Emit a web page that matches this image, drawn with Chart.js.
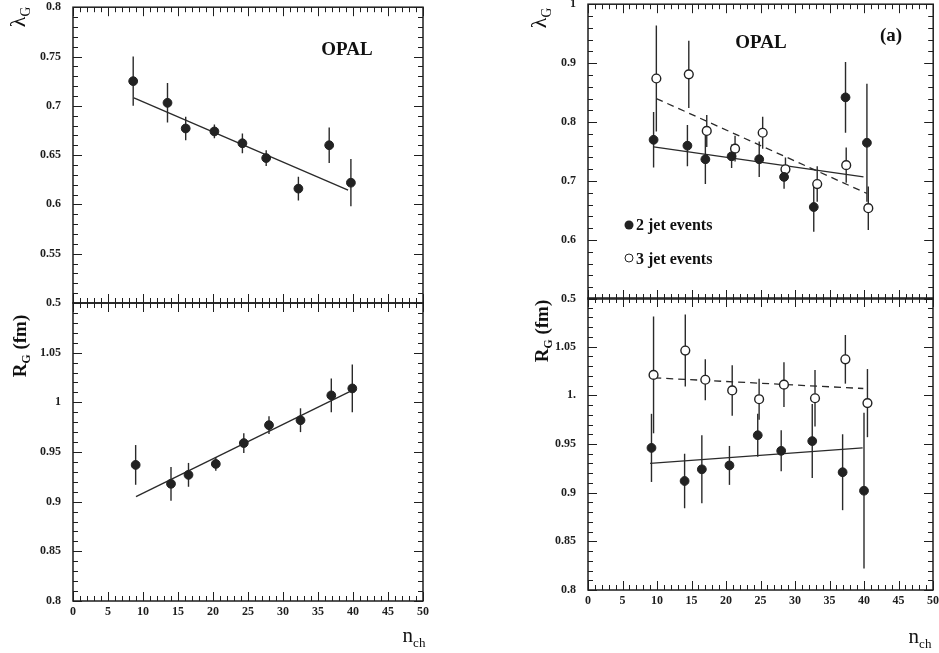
<!DOCTYPE html>
<html lang="en">
<head>
<meta charset="UTF-8">
<title>OPAL lambda_G and R_G versus n_ch</title>
<style>
  body { margin: 0; background: #fff; font-family: "Liberation Serif", serif; }
  #page { position: relative; width: 939px; height: 653px; overflow: hidden; background: #fff; }
  canvas { position: absolute; }
  .lbl { position: absolute; color: #111; white-space: nowrap; font-weight: bold; transform: translate(-50%, -50%); line-height: 1; }
  .left { transform: translate(0, -50%); }
  .rot { transform: translate(-50%, -50%) rotate(-90deg); }
  .lbl sub { font-size: 62%; vertical-align: -0.35em; }
  .dot { position: absolute; width: 9px; height: 9px; border-radius: 50%; transform: translate(-50%, -50%); box-sizing: border-box; }
</style>
</head>
<body>
<div id="page">
  <canvas id="tl" width="440" height="316" style="left:0;top:0"></canvas>
  <canvas id="bl" width="440" height="363" style="left:0;top:290px"></canvas>
  <canvas id="tr" width="439" height="313" style="left:500px;top:-3px"></canvas>
  <canvas id="br" width="439" height="365" style="left:500px;top:288px"></canvas>

  <div class="lbl rot" style="left:20px;top:17px;font-size:22px;font-weight:normal">&lambda;<sub>G</sub></div>
  <div class="lbl rot" style="left:21px;top:346px;font-size:19px">R<sub>G</sub> (fm)</div>
  <div class="lbl rot" style="left:541px;top:18px;font-size:22px;font-weight:normal">&lambda;<sub>G</sub></div>
  <div class="lbl rot" style="left:543px;top:331px;font-size:19px">R<sub>G</sub> (fm)</div>

  <div class="lbl" style="left:347px;top:48px;font-size:19px">OPAL</div>
  <div class="lbl" style="left:761px;top:41px;font-size:19px">OPAL</div>
  <div class="lbl" style="left:891px;top:34px;font-size:19px">(a)</div>

  <div class="dot" style="left:629px;top:225px;background:#222"></div>
  <div class="lbl left" style="left:636px;top:225px;font-size:16px">2 jet events</div>
  <div class="dot" style="left:629px;top:258px;background:#fff;border:1.3px solid #222"></div>
  <div class="lbl left" style="left:636px;top:259px;font-size:16px">3 jet events</div>

  <div class="lbl" style="left:414px;top:637px;font-size:21px;font-weight:normal">n<sub>ch</sub></div>
  <div class="lbl" style="left:920px;top:638px;font-size:21px;font-weight:normal">n<sub>ch</sub></div>
</div>

<script src="https://cdn.jsdelivr.net/npm/chart.js@4/dist/chart.umd.min.js"></script>
<script>
// x axis (n_ch), shared by all panels
const nchTicks = [0, 5, 10, 15, 20, 25, 30, 35, 40, 45, 50];
const nchLabels = ['0', '5', '10', '15', '20', '25', '30', '35', '40', '45', '50'];

// left: all events
const nchLamAll = [8.6, 13.5, 16.1, 20.2, 24.2, 27.6, 32.2, 36.6, 39.7];
const lamAll = [0.725, 0.703, 0.677, 0.674, 0.662, 0.647, 0.616, 0.660, 0.622];
const lamAllErr = [0.025, 0.020, 0.012, 0.007, 0.010, 0.008, 0.012, 0.018, 0.024];
const lamAllFitX = [8.7, 39.3];
const lamAllFitY = [0.708, 0.6145];

const nchRAll = [8.95, 14.0, 16.5, 20.4, 24.4, 28.0, 32.5, 36.9, 39.9];
const rAll = [0.937, 0.918, 0.927, 0.938, 0.959, 0.977, 0.982, 1.007, 1.014];
const rAllErr = [0.020, 0.017, 0.012, 0.007, 0.010, 0.009, 0.012, 0.017, 0.024];
const rAllFitX = [9.0, 39.6];
const rAllFitY = [0.905, 1.011];

// right: 2 jet and 3 jet events
const nchLam2 = [9.5, 14.4, 17.0, 20.8, 24.8, 28.4, 32.7, 37.3, 40.4];
const lam2 = [0.770, 0.760, 0.737, 0.742, 0.737, 0.707, 0.656, 0.842, 0.765];
const lam2Err = [0.047, 0.035, 0.042, 0.020, 0.030, 0.020, 0.042, 0.060, 0.100];
const nchLam3 = [9.9, 14.6, 17.2, 21.3, 25.3, 28.6, 33.2, 37.4, 40.6];
const lam3 = [0.874, 0.881, 0.785, 0.755, 0.782, 0.720, 0.695, 0.727, 0.654];
const lam3Err = [0.090, 0.057, 0.027, 0.022, 0.027, 0.020, 0.030, 0.030, 0.037];
const lam2FitX = [9.5, 39.9], lam2FitY = [0.758, 0.707];
const lam3FitX = [9.9, 40.4], lam3FitY = [0.840, 0.679];

const nchR2 = [9.2, 14.0, 16.5, 20.5, 24.6, 28.0, 32.5, 36.9, 40.0];
const r2 = [0.946, 0.912, 0.924, 0.928, 0.959, 0.943, 0.953, 0.921, 0.902];
const r2Err = [0.035, 0.028, 0.035, 0.020, 0.022, 0.021, 0.038, 0.039, 0.080];
const nchR3 = [9.5, 14.1, 17.0, 20.9, 24.8, 28.4, 32.9, 37.3, 40.5];
const r3 = [1.021, 1.046, 1.016, 1.005, 0.996, 1.011, 0.997, 1.037, 0.992];
const r3Err = [0.060, 0.037, 0.021, 0.026, 0.021, 0.023, 0.029, 0.025, 0.035];
const r2FitX = [9.0, 39.8], r2FitY = [0.930, 0.946];
const r3FitX = [9.6, 39.9], r3FitY = [1.018, 1.007];

// y tick labels
const lamLeftTicks = [0.5, 0.55, 0.6, 0.65, 0.7, 0.75, 0.8];
const lamLeftLabels = ['0.5', '0.55', '0.6', '0.65', '0.7', '0.75', '0.8'];
const rLeftTicks = [0.8, 0.85, 0.9, 0.95, 1.0, 1.05, 1.1];
const rLeftLabels = ['0.8', '0.85', '0.9', '0.95', '1', '1.05', ''];
const lamRightTicks = [0.5, 0.6, 0.7, 0.8, 0.9, 1.0];
const lamRightLabels = ['0.5', '0.6', '0.7', '0.8', '0.9', '1'];
const rRightTicks = [0.8, 0.85, 0.9, 0.95, 1.0, 1.05, 1.1];
const rRightLabels = ['0.8', '0.85', '0.9', '0.95', '1.', '1.05', ''];

const INK = '#1e1e1e';
const tickFont = { family: 'Liberation Serif', weight: 'bold', size: 12 };

function pts(xs, ys) {
  return xs.map((x, i) => ({ x: x, y: ys[i] }));
}

// frame with inward ticks on all four sides
const framePlugin = {
  id: 'frame',
  afterDraw(chart, args, opts) {
    const { ctx, chartArea: a, scales } = chart;
    const xs = scales.x, ys = scales.y;
    ctx.save();
    ctx.strokeStyle = INK;
    ctx.lineWidth = 1.5;
    ctx.strokeRect(a.left, a.top, a.right - a.left, a.bottom - a.top);
    ctx.lineWidth = 1;
    ctx.beginPath();
    const nx = Math.round((xs.max - xs.min) / opts.xMinor);
    for (let i = 0; i <= nx; i++) {
      const p = Math.round(xs.getPixelForValue(xs.min + i * opts.xMinor)) + 0.5;
      const L = i % opts.every === 0 ? 9 : 5;
      ctx.moveTo(p, a.bottom); ctx.lineTo(p, a.bottom - L);
      ctx.moveTo(p, a.top); ctx.lineTo(p, a.top + L);
    }
    const ny = Math.round((ys.max - ys.min) / opts.yMinor);
    for (let i = 0; i <= ny; i++) {
      const p = Math.round(ys.getPixelForValue(ys.min + i * opts.yMinor)) + 0.5;
      const L = i % opts.every === 0 ? 9 : 5;
      ctx.moveTo(a.left, p); ctx.lineTo(a.left + L, p);
      ctx.moveTo(a.right, p); ctx.lineTo(a.right - L, p);
    }
    ctx.stroke();
    ctx.restore();
  }
};

// vertical error bars, drawn under the markers
const errorBarPlugin = {
  id: 'errorBars',
  beforeDatasetsDraw(chart) {
    const { ctx, chartArea: a, scales: { x, y } } = chart;
    ctx.save();
    ctx.beginPath();
    ctx.rect(a.left, a.top, a.right - a.left, a.bottom - a.top);
    ctx.clip();
    ctx.strokeStyle = '#2a2a2a';
    ctx.lineWidth = 1.4;
    chart.data.datasets.forEach(ds => {
      if (!ds.errors) return;
      ds.data.forEach((d, i) => {
        const px = x.getPixelForValue(d.x);
        ctx.beginPath();
        ctx.moveTo(px, y.getPixelForValue(d.y - ds.errors[i]));
        ctx.lineTo(px, y.getPixelForValue(d.y + ds.errors[i]));
        ctx.stroke();
      });
    });
    ctx.restore();
  }
};

function pointSet(xs, ys, errs, filled) {
  return {
    type: 'scatter',
    data: pts(xs, ys),
    errors: errs,
    pointRadius: 4.4,
    pointBackgroundColor: filled ? '#222' : '#fff',
    pointBorderColor: '#222',
    pointBorderWidth: filled ? 1 : 1.4,
    order: 0
  };
}

function fitSet(xs, ys, dashed) {
  return {
    type: 'line',
    data: pts(xs, ys),
    borderColor: '#2a2a2a',
    borderWidth: 1.3,
    borderDash: dashed ? [7, 5] : [],
    pointRadius: 0,
    fill: false,
    order: 1
  };
}

// invisible grid, used only to push tick labels away from the frame
const hiddenGrid = tl => ({
  display: true, drawOnChartArea: false, drawTicks: true,
  tickLength: tl, color: 'rgba(0,0,0,0)'
});

function makePanel(id, cfg) {
  new Chart(document.getElementById(id), {
    type: 'scatter',
    data: { datasets: cfg.datasets },
    options: {
      responsive: false,
      animation: false,
      devicePixelRatio: 1,
      layout: { padding: cfg.padding },
      plugins: {
        legend: { display: false },
        tooltip: { enabled: false },
        frame: { xMinor: 1, yMinor: cfg.yMinor, every: 5 }
      },
      scales: {
        x: {
          type: 'linear',
          min: 0, max: 50,
          display: cfg.showX,
          afterBuildTicks: s => { s.ticks = nchTicks.map(v => ({ value: v })); },
          afterFit: s => { if (cfg.showX) s.height = 22; },
          grid: hiddenGrid(4),
          border: { display: false },
          ticks: {
            autoSkip: false, maxRotation: 0, padding: 0,
            color: INK, font: tickFont,
            callback: (v, i) => nchLabels[i]
          }
        },
        y: {
          type: 'linear',
          min: cfg.yTicks[0], max: cfg.yTicks[cfg.yTicks.length - 1],
          afterBuildTicks: s => { s.ticks = cfg.yTicks.map(v => ({ value: v })); },
          afterFit: s => { s.width = cfg.yWidth; },
          grid: hiddenGrid(12),
          border: { display: false },
          ticks: {
            autoSkip: false, padding: 0,
            color: INK, font: tickFont,
            callback: (v, i) => cfg.yLabels[i]
          }
        }
      }
    },
    plugins: [framePlugin, errorBarPlugin]
  });
}

makePanel('tl', {
  datasets: [fitSet(lamAllFitX, lamAllFitY, false), pointSet(nchLamAll, lamAll, lamAllErr, true)],
  yTicks: lamLeftTicks, yLabels: lamLeftLabels, yMinor: 0.01,
  yWidth: 73, showX: false,
  padding: { top: 7, bottom: 13, left: 0, right: 17 }
});

makePanel('bl', {
  datasets: [fitSet(rAllFitX, rAllFitY, false), pointSet(nchRAll, rAll, rAllErr, true)],
  yTicks: rLeftTicks, yLabels: rLeftLabels, yMinor: 0.01,
  yWidth: 73, showX: true,
  padding: { top: 13, bottom: 30, left: 0, right: 17 }
});

makePanel('tr', {
  datasets: [
    fitSet(lam2FitX, lam2FitY, false), fitSet(lam3FitX, lam3FitY, true),
    pointSet(nchLam2, lam2, lam2Err, true), pointSet(nchLam3, lam3, lam3Err, false)
  ],
  yTicks: lamRightTicks, yLabels: lamRightLabels, yMinor: 0.02,
  yWidth: 88, showX: false,
  padding: { top: 7, bottom: 11, left: 0, right: 4 }
});

makePanel('br', {
  datasets: [
    fitSet(r2FitX, r2FitY, false), fitSet(r3FitX, r3FitY, true),
    pointSet(nchR2, r2, r2Err, true), pointSet(nchR3, r3, r3Err, false)
  ],
  yTicks: rRightTicks, yLabels: rRightLabels, yMinor: 0.01,
  yWidth: 88, showX: true,
  padding: { top: 10, bottom: 41, left: 0, right: 4 }
});
</script>
</body>
</html>
